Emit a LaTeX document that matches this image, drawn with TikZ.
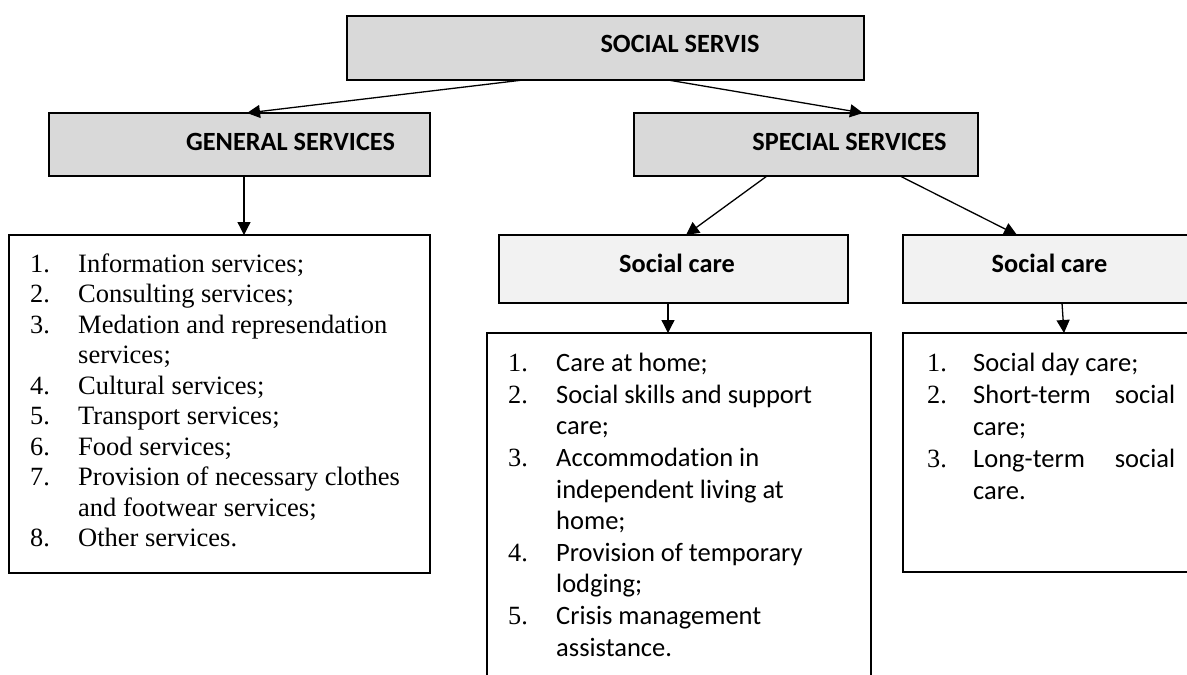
\documentclass[tikz,border=0pt]{standalone}
\usepackage{fontspec}
\setmainfont{Liberation Serif}
\newfontfamily\carlito{Carlito}[Ligatures=NoCommon]
\usetikzlibrary{arrows.meta}
\definecolor{headgray}{HTML}{D9D9D9}
\definecolor{subgray}{HTML}{F2F2F2}
\tikzset{
  box/.style={draw=black, line width=1.5pt, inner sep=0pt, outer sep=0pt, anchor=north west},
  headbox/.style={box, fill=headgray, line width=2pt},
  subbox/.style={box, fill=subgray},
  listbox/.style={box, fill=white},
  headtxt/.style={inner sep=0pt, anchor=base, font=\carlito\bfseries\fontsize{26.3}{30}\selectfont},
  numtxt/.style={inner sep=0pt, anchor=base west, font=\fontsize{26.3}{30}\selectfont},
  sertxt/.style={inner sep=0pt, anchor=base west, font=\fontsize{26.5}{30}\selectfont},
  caltxt/.style={inner sep=0pt, anchor=base west, font=\carlito\fontsize{26.5}{30}\selectfont},
  link/.style={line width=1.3pt, -{Triangle[length=13pt,width=13pt]}}
}
\begin{document}
\begin{tikzpicture}[x=1pt, y=-1pt]
\useasboundingbox (0,0) rectangle (1187,675);
\clip (0,0) rectangle (1187,675);

% boxes
\node[headbox, minimum width=517pt, minimum height=64pt] (top) at (347,16) {};
\node[headbox, minimum width=381pt, minimum height=63pt] (gen) at (49,113) {};
\node[headbox, minimum width=344pt, minimum height=63pt] (spec) at (634,113) {};
\node[listbox, minimum width=421pt, minimum height=338pt] (glist) at (9,235) {};
\node[subbox, minimum width=349pt, minimum height=68pt] (care1) at (499,235) {};
\node[subbox, minimum width=320pt, minimum height=68pt] (care2) at (903,235) {};
\node[listbox, minimum width=384pt, minimum height=380pt] (clist1) at (487,333) {};
\node[listbox, minimum width=320pt, minimum height=239pt] (clist2) at (903,333) {};

% headings
\node[headtxt] (topt) at (680,52.7) {SOCIAL SERVIS};
\node[headtxt] (gent) at (290.5,150) {GENERAL SERVICES};
\node[headtxt] (spect) at (849.5,150.5) {SPECIAL SERVICES};
\node[headtxt] (care1t) at (677,272) {Social care};
\node[headtxt] (care2t) at (1049.5,272) {Social care};

% general services list
\foreach \num/\txt [count=\i from 0] in {
  1./{Information services;},
  2./{Consulting services;},
  3./{Medation and represendation},
  /{services;},
  4./{Cultural services;},
  5./{Transport services;},
  6./{Food services;},
  7./{Provision of necessary clothes},
  /{and footwear services;},
  8./{Other services.}}
{
  \node[numtxt, name=gn\i] at (30,{272+30.5*\i}) {\num};
  \node[sertxt, name=gt\i] at (78,{272+30.5*\i}) {\txt};
}

% social care list (left)
\foreach \num/\txt [count=\i from 0] in {
  1./{Care at home;},
  2./{Social skills and support},
  /{care;},
  3./{Accommodation in},
  /{independent living at},
  /{home;},
  4./{Provision of temporary},
  /{lodging;},
  5./{Crisis management},
  /{assistance.}}
{
  \node[numtxt, name=an\i] at (508,{371.7+31.6*\i}) {\num};
  \node[caltxt, name=at\i] at (556,{371.7+31.6*\i}) {\txt};
}

% social care list (right)
\foreach \num/\txt [count=\i from 0] in {
  1./{Social day care;},
  2./{\makebox[202pt][s]{Short-term social}},
  /{care;},
  3./{\makebox[202pt][s]{Long-term social}},
  /{care.}}
{
  \node[numtxt, name=bn\i] at (927,{371.7+32*\i}) {\num};
  \node[caltxt, name=bt\i] at (973,{371.7+32*\i}) {\txt};
}

% connectors
\draw[link] ([xshift=176pt]top.south west) -- ([xshift=198pt]gen.north west);
\draw[link] ([xshift=321pt]top.south west) -- ([xshift=229pt]spec.north west);
\draw[link] ([xshift=195pt]gen.south west) -- ([xshift=235pt]glist.north west);
\draw[link] ([xshift=133pt]spec.south west) -- ([xshift=187pt]care1.north west);
\draw[link] ([xshift=266pt]spec.south west) -- ([xshift=114pt]care2.north west);
\draw[link] ([xshift=169pt]care1.south west) -- ([xshift=181pt]clist1.north west);
\draw[link] ([xshift=159pt]care2.south west) -- ([xshift=161pt]clist2.north west);
\end{tikzpicture}
\end{document}
